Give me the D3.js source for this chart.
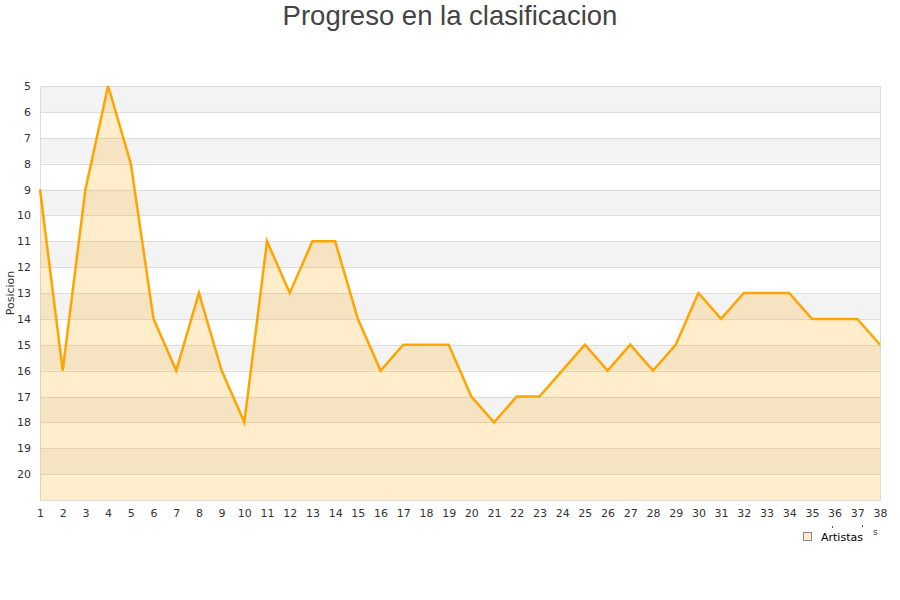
<!DOCTYPE html>
<html>
<head>
<meta charset="utf-8">
<script src="https://cdn.jsdelivr.net/npm/d3@7"></script>
<style>
  html, body { margin: 0; padding: 0; background: #fff; }
  svg { display: block; font-family: "DejaVu Sans", sans-serif; }
</style>
</head>
<body>
<svg id="chart" width="900" height="600"></svg>
<script>
const title = "Progreso en la clasificacion";
const yTitle = "Posicion";
const seriesName = "Artistas";
const jornadas = d3.range(1, 39);
const posiciones = [9, 16, 9, 5, 8, 14, 16, 13, 16, 18, 11, 13, 11, 11, 14, 16, 15, 15, 15, 17,
                    18, 17, 17, 16, 15, 16, 15, 16, 15, 13, 14, 13, 13, 13, 14, 14, 14, 15];
const yTicks = d3.range(5, 21);

const svg = d3.select("#chart");
const mLeft = 40, mRight = 880, mTop = 86, mBottom = 500;

const x = d3.scaleLinear().domain([1, 38]).range([mLeft, mRight]);
const y = d3.scaleLinear().domain([5, 21]).range([mTop, mBottom]);

// alternating bands
svg.append("g").selectAll("rect")
  .data(d3.range(5, 21))
  .join("rect")
  .attr("x", mLeft).attr("width", mRight - mLeft)
  .attr("y", d => y(d)).attr("height", d => y(d + 1) - y(d))
  .attr("fill", d => (d % 2 === 1) ? "#f3f3f3" : "#ffffff");

// grid lines
svg.append("g").selectAll("line")
  .data(yTicks)
  .join("line")
  .attr("x1", mLeft).attr("x2", mRight)
  .attr("y1", d => Math.round(y(d)) + 0.5).attr("y2", d => Math.round(y(d)) + 0.5)
  .attr("stroke", "#dddddd").attr("stroke-width", 1);

// plot border
svg.append("rect")
  .attr("x", mLeft + 0.5).attr("y", mTop + 0.5)
  .attr("width", mRight - mLeft).attr("height", mBottom - mTop)
  .attr("fill", "none").attr("stroke", "#dddddd");

const data = jornadas.map((j, i) => ({ j, p: posiciones[i] }));

svg.append("path")
  .datum(data)
  .attr("fill", "#ffa500").attr("fill-opacity", 0.2)
  .attr("d", d3.area().x(d => x(d.j)).y0(mBottom).y1(d => y(d.p)));

svg.append("path")
  .datum(data)
  .attr("fill", "none").attr("stroke", "#ffa500").attr("stroke-width", 2.5)
  .attr("stroke-linejoin", "miter")
  .attr("d", d3.line().x(d => x(d.j)).y(d => y(d.p)));

// y axis labels
const yAxis = d3.axisLeft(y).tickValues(yTicks).tickSize(0).tickPadding(0);
const gy = svg.append("g").attr("transform", `translate(${mLeft - 9},0)`).call(yAxis);
gy.select(".domain").remove();
gy.selectAll("text").attr("font-size", 11).attr("fill", "#333").attr("font-family", "DejaVu Sans, sans-serif");

// x axis labels
const xAxis = d3.axisBottom(x).tickValues(jornadas).tickSize(0).tickPadding(0).tickFormat(d3.format("d"));
const gx = svg.append("g").attr("transform", `translate(0,${mBottom + 9})`).call(xAxis);
gx.select(".domain").remove();
gx.selectAll("text").attr("font-size", 11).attr("fill", "#333").attr("font-family", "DejaVu Sans, sans-serif");

// y title
svg.append("text")
  .attr("transform", "translate(14,293) rotate(-90)")
  .attr("text-anchor", "middle")
  .attr("font-size", 11).attr("fill", "#333")
  .text(yTitle);

// title
svg.append("text")
  .attr("x", 450).attr("y", 25)
  .attr("text-anchor", "middle")
  .attr("font-family", "Liberation Sans, Arial, sans-serif")
  .attr("font-size", 27.5).attr("fill", "#444")
  .text(title);

// legend
svg.append("rect")
  .attr("x", 803.5).attr("y", 532.5).attr("width", 8).attr("height", 8)
  .attr("fill", "#ffedcc").attr("stroke", "#888");
svg.append("text")
  .attr("x", 821).attr("y", 541)
  .attr("font-size", 11).attr("fill", "#000")
  .text(seriesName);

// stray partial text artefacts
svg.append("text")
  .attr("x", 873).attr("y", 535)
  .attr("font-size", 9).attr("fill", "#333")
  .text("s");
svg.append("g").selectAll("rect.dot")
  .data([[832, 526], [862, 525]])
  .join("rect")
  .attr("x", d => d[0]).attr("y", d => d[1]).attr("width", 1).attr("height", 2)
  .attr("fill", "#555");
</script>
</body>
</html>
